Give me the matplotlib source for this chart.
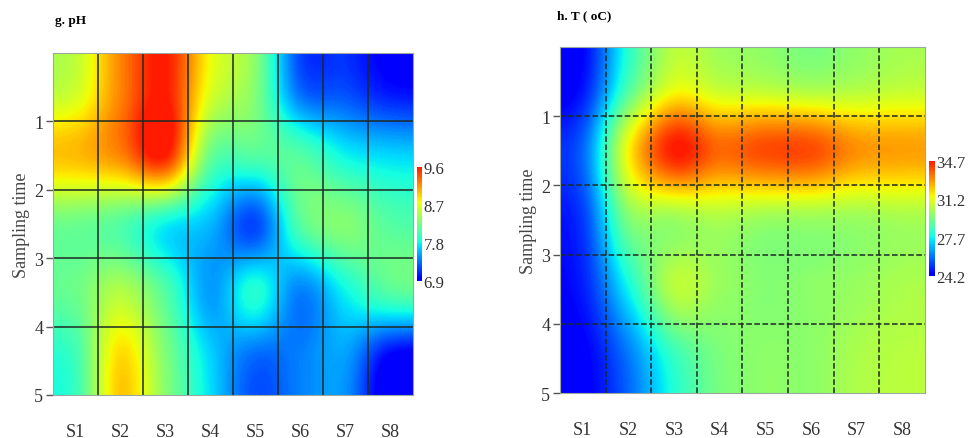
import numpy as np
import matplotlib.pyplot as plt
from matplotlib.colors import ListedColormap

plt.rcParams['font.family'] = ['Liberation Serif', 'DejaVu Serif']

sites = ['S1', 'S2', 'S3', 'S4', 'S5', 'S6', 'S7', 'S8']
times = [1, 2, 3, 4, 5]

# rows = sampling time bands (top to bottom), columns = S1..S8
ph = np.array([
    [8.6, 9.2, 9.6, 8.7, 8.3, 7.3, 7.2, 7.0],
    [9.0, 9.2, 9.6, 8.2, 8.1, 8.1, 7.8, 7.7],
    [8.2, 8.1, 7.8, 7.6, 7.2, 8.1, 8.3, 8.1],
    [8.2, 8.5, 8.1, 7.5, 7.9, 7.4, 7.8, 8.1],
    [8.0, 8.9, 8.3, 7.7, 7.3, 7.4, 7.5, 6.9],
])
temp = np.array([
    [24.6, 28.5, 31.0, 30.5, 30.3, 30.0, 30.2, 30.5],
    [25.8, 31.5, 34.7, 33.6, 34.0, 34.0, 33.0, 32.8],
    [25.2, 29.5, 30.0, 30.3, 30.0, 30.0, 30.0, 30.2],
    [24.8, 27.7, 30.5, 30.0, 29.7, 29.8, 30.0, 30.3],
    [24.3, 26.0, 28.3, 29.5, 29.8, 29.8, 30.3, 30.5],
])
ph_ticks = [6.9, 7.8, 8.7, 9.6]
t_ticks = [24.2, 27.7, 31.2, 34.7]

cmap = ListedColormap(plt.cm.jet(np.linspace(0.11, 0.88, 256)))

fig = plt.figure(figsize=(9.78, 4.39), dpi=100)


def panel(rect, cbrect, data, ticks, title, gridstyle, title_xy):
    ax = fig.add_axes(rect)
    im = ax.imshow(data, cmap=cmap, vmin=ticks[0], vmax=ticks[-1],
                   extent=[0, 8, 5, 0], aspect='auto', interpolation='catrom')
    for x in range(1, 8):
        ax.axvline(x, color='#1c2a24', lw=1.1, ls=gridstyle)
    for y in range(1, 5):
        ax.axhline(y, color='#1c2a24', lw=1.1, ls=gridstyle)
    ax.set_xlim(0, 8)
    ax.set_ylim(5, 0)
    ax.set_xticks(np.arange(8) + 0.5)
    ax.set_xticklabels(sites)
    ax.set_yticks(times)
    ax.tick_params(axis='x', length=0, pad=20, labelsize=13, labelcolor='#333333')
    ax.tick_params(axis='y', length=5, width=1, color='#555555', pad=2,
                   labelsize=13, labelcolor='#333333')
    ax.set_ylabel('Sampling time', fontsize=13, color='#444444', labelpad=3)
    for s in ax.spines.values():
        s.set_color('#9aa8a0')
        s.set_linewidth(0.8)
    fig.text(title_xy[0], title_xy[1], title, fontsize=9.5, fontweight='bold')

    cax = fig.add_axes(cbrect)
    cb = fig.colorbar(im, cax=cax, ticks=ticks)
    cb.outline.set_visible(False)
    cax.tick_params(length=0, pad=1, labelsize=12, labelcolor='#333333')
    cax.set_yticklabels([f'{v:.1f}' for v in ticks])
    return ax


panel([0.0542, 0.098, 0.368, 0.779], [0.4264, 0.358, 0.0051, 0.26],
      ph, ph_ticks, 'g. pH', '-', (0.056, 0.945))
panel([0.5726, 0.1025, 0.3732, 0.788], [0.950, 0.369, 0.006, 0.262],
      temp, t_ticks, 'h. T ( oC)', '--', (0.57, 0.955))

fig.savefig('out.png', dpi=100)
